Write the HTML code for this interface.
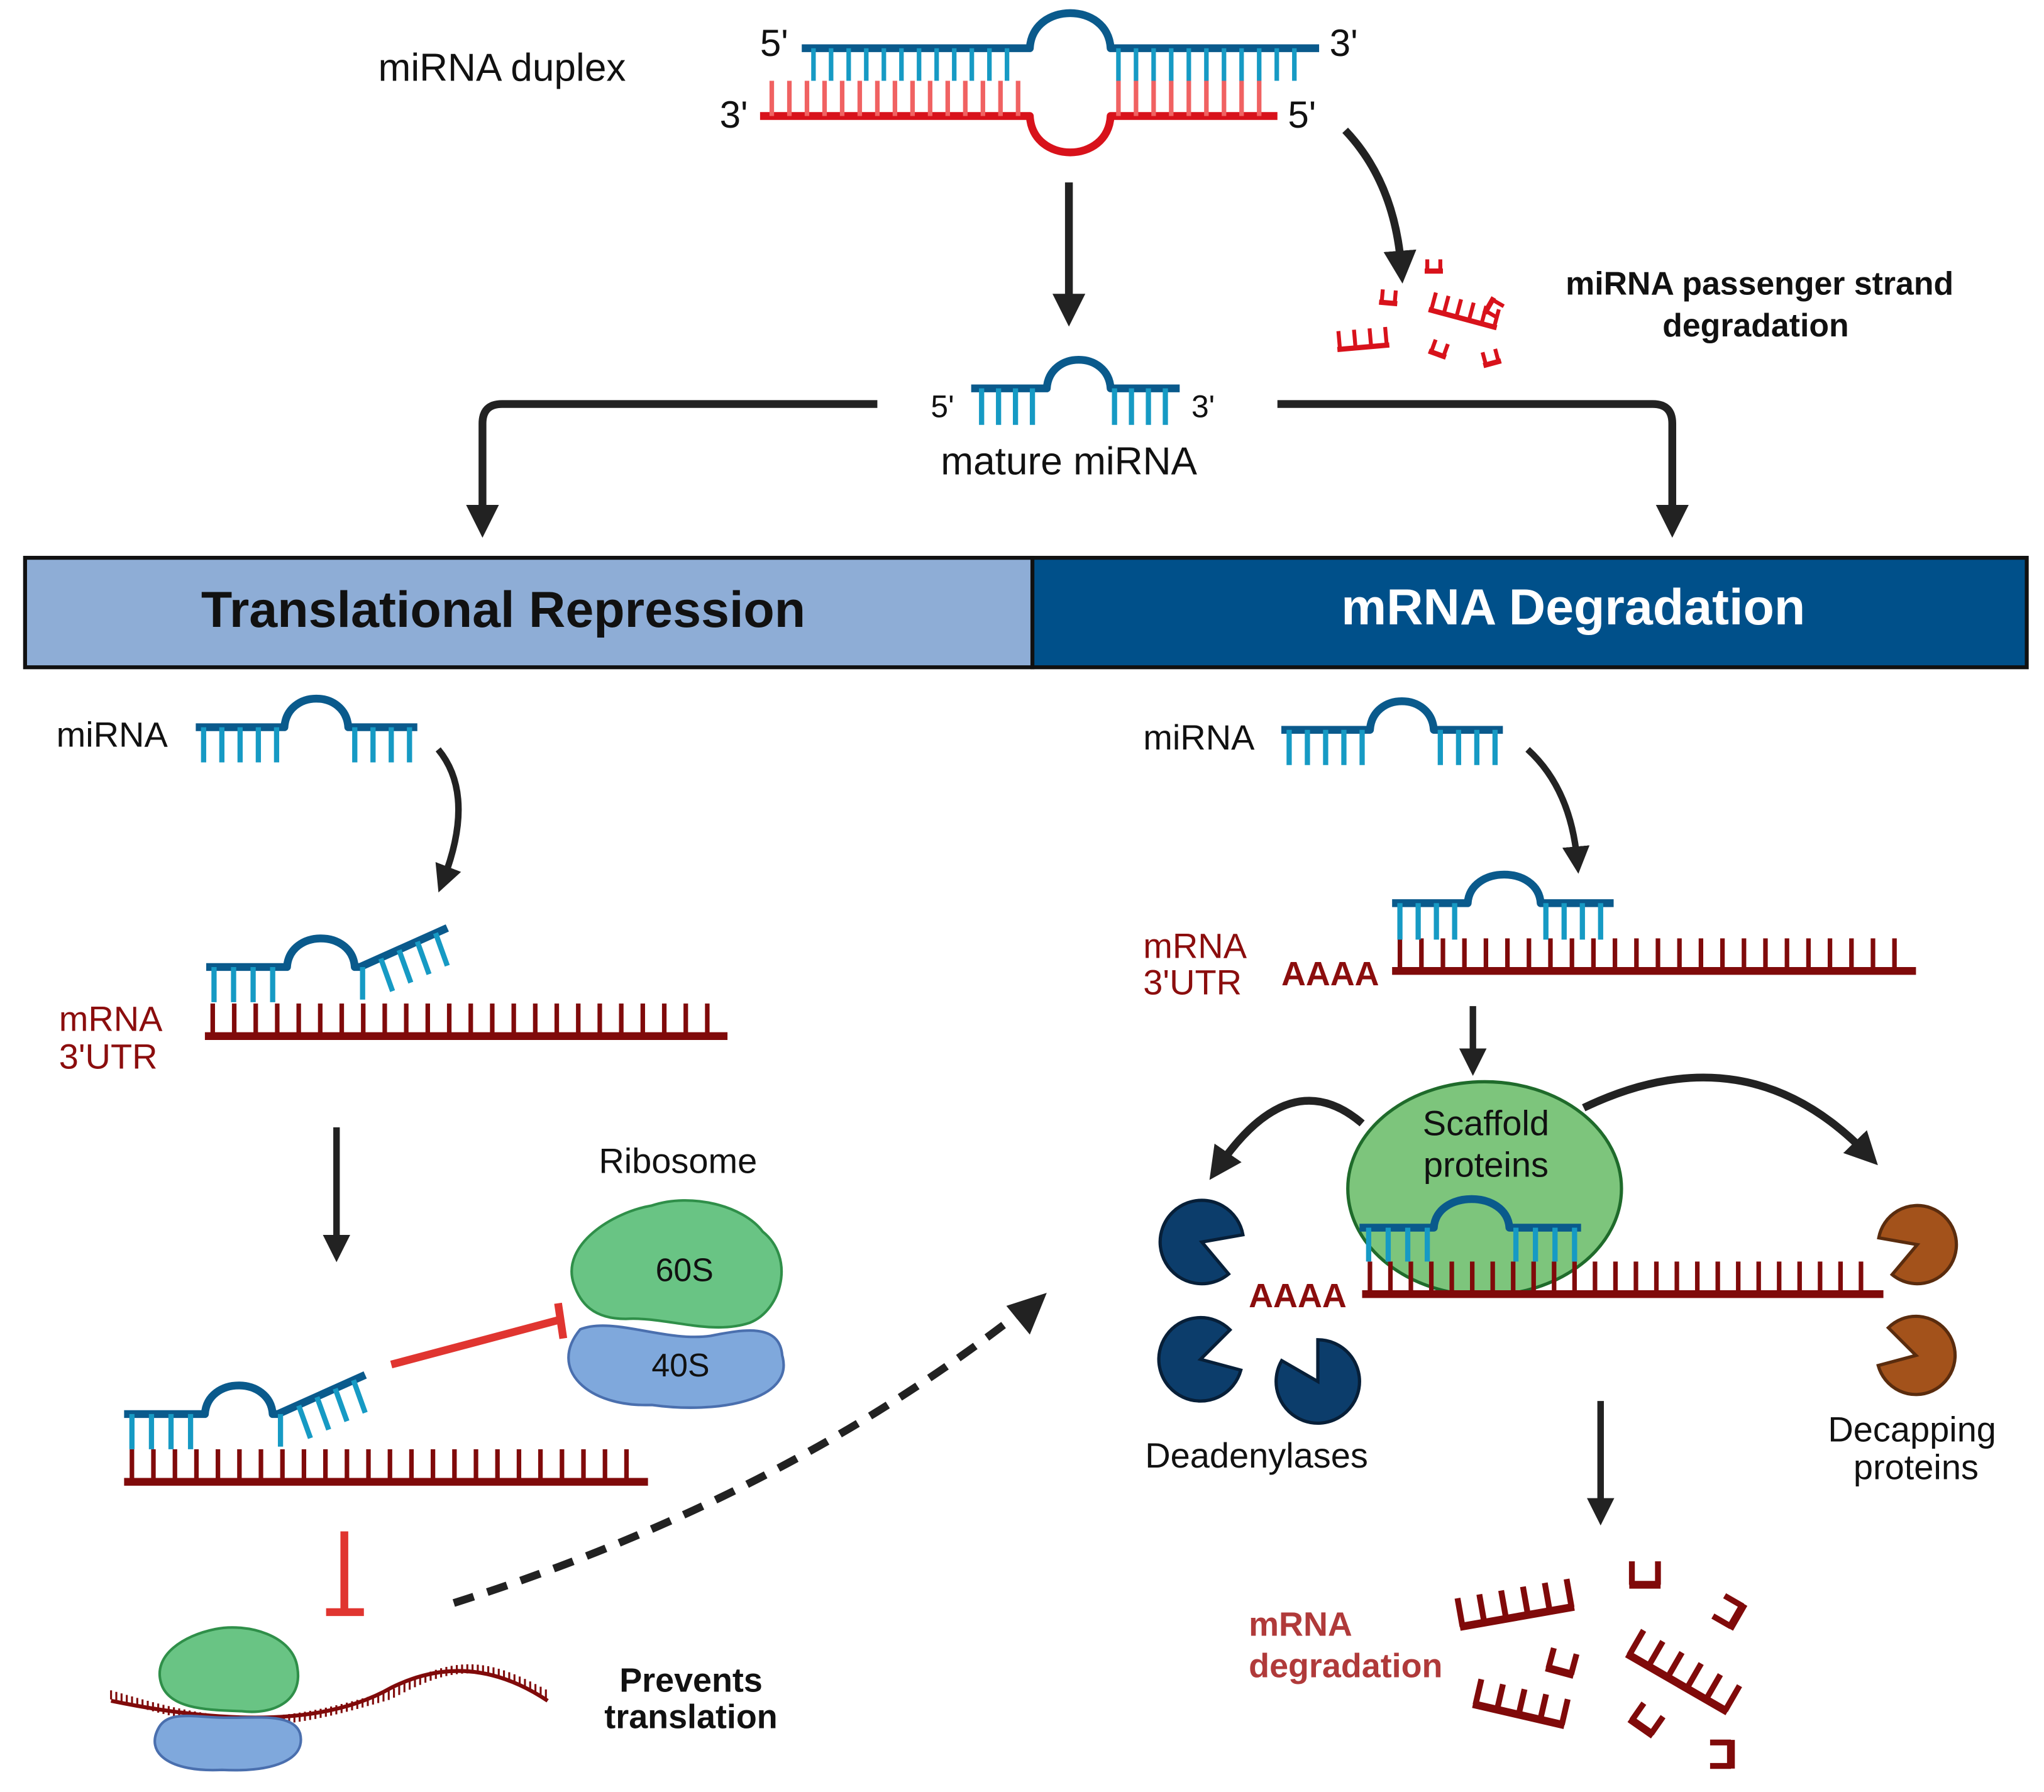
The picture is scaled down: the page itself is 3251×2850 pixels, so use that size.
<!DOCTYPE html>
<html><head><meta charset="utf-8">
<style>
html,body{margin:0;padding:0;background:#fff;}
svg{display:block;}
text{font-family:"Liberation Sans",Arial,sans-serif;}
</style></head>
<body>
<svg id="s" width="3251" height="2850" viewBox="0 0 1568 1375" xmlns="http://www.w3.org/2000/svg">
<defs>
<marker id="ah" viewBox="0 0 10 10" refX="5" refY="5" markerWidth="4.2" markerHeight="4.2" orient="auto"><path d="M0,0 L10,5 L0,10 Z" fill="#222"/></marker>
</defs>
<rect x="19" y="428" width="773" height="84" fill="#8eadd6" stroke="#111" stroke-width="3"/>
<rect x="792" y="428" width="763" height="84" fill="#00508a" stroke="#111" stroke-width="3"/>
<text x="386" y="481" font-size="39" font-weight="bold" fill="#111" text-anchor="middle">Translational Repression</text>
<text x="1207" y="479" font-size="39" font-weight="bold" fill="#fff" text-anchor="middle">mRNA Degradation</text>

<text x="290" y="62" font-size="30" fill="#111">miRNA duplex</text>
<text x="583" y="43" font-size="29" fill="#111">5'</text>
<text x="1020" y="43" font-size="29" fill="#111">3'</text>
<text x="552" y="98" font-size="29" fill="#111">3'</text>
<text x="988" y="98" font-size="29" fill="#111">5'</text>
<text x="1350" y="226" font-size="25" font-weight="bold" fill="#111" text-anchor="middle">miRNA passenger strand</text>
<text x="1347" y="258" font-size="25" font-weight="bold" fill="#111" text-anchor="middle">degradation</text>
<text x="714" y="320" font-size="24" fill="#111">5'</text>
<text x="914" y="320" font-size="24" fill="#111">3'</text>
<text x="820" y="364" font-size="30" fill="#111" text-anchor="middle">mature miRNA</text>

<text x="43" y="573" font-size="27" fill="#111">miRNA</text>
<text x="45" y="791" font-size="27" fill="#8b0d0d">mRNA</text>
<text x="45" y="820" font-size="27" fill="#8b0d0d">3'UTR</text>
<text x="520" y="900" font-size="27" fill="#111" text-anchor="middle">Ribosome</text>
<text x="530" y="1298" font-size="26" font-weight="bold" fill="#111" text-anchor="middle">Prevents</text>
<text x="530" y="1326" font-size="26" font-weight="bold" fill="#111" text-anchor="middle">translation</text>

<text x="877" y="575" font-size="27" fill="#111">miRNA</text>
<text x="877" y="735" font-size="27" fill="#8b0d0d">mRNA</text>
<text x="877" y="763" font-size="27" fill="#8b0d0d">3'UTR</text>
<text x="983" y="756" font-size="26" font-weight="bold" fill="#8b0d0d">AAAA</text>
<text x="958" y="1003" font-size="26" font-weight="bold" fill="#8b0d0d">AAAA</text>
<text x="964" y="1126" font-size="27" fill="#111" text-anchor="middle">Deadenylases</text>
<text x="1467" y="1106" font-size="27" fill="#111" text-anchor="middle">Decapping</text>
<text x="1470" y="1135" font-size="27" fill="#111" text-anchor="middle">proteins</text>
<text x="958" y="1255" font-size="26" font-weight="bold" fill="#b03a3a">mRNA</text>
<text x="958" y="1287" font-size="26" font-weight="bold" fill="#b03a3a">degradation</text>
<g id="g"></g>
</svg>
<script>
var NS="http://www.w3.org/2000/svg",G=document.getElementById('g');
function el(t,a){var e=document.createElementNS(NS,t);for(var k in a)e.setAttribute(k,a[k]);G.appendChild(e);return e;}
function line(x1,y1,x2,y2,c,w,extra){var a={x1:x1,y1:y1,x2:x2,y2:y2,stroke:c,'stroke-width':w};for(var k in extra)a[k]=extra[k];return el('line',a);}
var BL='#0a5a8c',CY='#169ac4',RD='#d8121b',PK='#f06262',DR='#800a0a';
function strand(x1,x2,y,bx1,bx2,h,c,w){
 el('path',{d:'M'+x1+','+y+' H'+bx1+' C'+(bx1+2)+','+(y+h*1.33)+' '+(bx2-2)+','+(y+h*1.33)+' '+bx2+','+y+' H'+x2,fill:'none',stroke:c,'stroke-width':w,'stroke-linejoin':'round'});
}
function teeth(xs,xe,step,y,len,c,w){for(var x=xs;x<=xe+0.1;x+=step)line(x,y,x,y+len,c,w);}
strand(615,1012,37,790,852,-27,BL,6);
teeth(624,785,13.5,37,25,CY,3.5);teeth(858,1005,13.5,37,25,CY,3.5);
strand(583,980,89,790,852,28,RD,6);
teeth(592,785,13.5,62,27,PK,3.5);teeth(858,972,13.5,62,27,PK,3.5);
line(820,140,820,238,'#222',6,{'marker-end':'url(#ah)'});
el('path',{d:'M1032,100 Q1070,140 1075,205',fill:'none',stroke:'#222','stroke-width':6,'marker-end':'url(#ah)'});
function frag(x,y,ang,n,len,sp,c,w,bw){var g=el('g',{transform:'translate('+x+','+y+') rotate('+ang+')'});var s=G;G=g;line(-2,0,(n-1)*sp+2,0,c,bw||w+1);for(var i=0;i<n;i++)line(i*sp,0,i*sp,-len,c,w);G=s;}
frag(1028,268,-5,4,14,12,RD,3,4);frag(1098,238,15,6,14,10,RD,3,4);
frag(1060,232,5,2,10,10,RD,3,4);frag(1095,208,0,2,9,10,RD,3,4);
frag(1098,270,20,2,10,10,RD,3,4);frag(1145,230,120,2,10,10,RD,3,4);frag(1140,280,-15,2,10,10,RD,3,4);
strand(745,905,298,803,852,-22,BL,6);teeth(753,800,13,298,28,CY,4);teeth(855,900,13,298,28,CY,4);
el('path',{d:'M673,310 H385 Q370,310 370,325 V400',fill:'none',stroke:'#222','stroke-width':6,'marker-end':'url(#ah)'});
el('path',{d:'M980,310 H1268 Q1283,310 1283,325 V400',fill:'none',stroke:'#222','stroke-width':6,'marker-end':'url(#ah)'});
function mirna(x,y){strand(x,x+170,y,x+68,x+117,-22,BL,6);teeth(x+6,x+62,14,y,27,CY,4);teeth(x+122,x+165,14,y,27,CY,4);}
mirna(150,558);
el('path',{d:'M336,575 Q365,610 340,675',fill:'none',stroke:'#222','stroke-width':5,'marker-end':'url(#ah)'});
function mrna(x1,x2,y,c,step){line(x1,y,x2,y,c,6);teeth(x1+6,x2-4,step,y-25,25,c,3.5);}
function bound(x,y){
 strand(x,x+120,y,x+62,x+114,-22,BL,6);
 teeth(x+6,x+58,15,y,27,CY,4);
 line(x+118,y,x+185,y-30,BL,6);
 for(var i=0;i<5;i++){var px=x+120+i*14,py=y-i*6.5;line(px,py,px+(i<1?0:9),py+25,CY,4);}
}
mrna(157,558,795,DR,16.5);bound(158,742);
line(258,865,258,958,'#222',5,{'marker-end':'url(#ah)'});
mrna(95,497,1137,DR,16.5);bound(95,1085);
line(300,1047,428,1013,'#e03530',6);line(428,1000,432,1027,'#e03530',6);
el('path',{d:'M445,1020 C420,1050 450,1080 500,1078 C550,1085 610,1075 600,1040 C598,1015 570,1020 545,1025 C510,1030 470,1010 445,1020Z',fill:'#7fa8dc',stroke:'#4a6fae','stroke-width':2});
el('path',{d:'M440,985 C430,955 470,930 500,925 C530,915 570,925 585,945 C610,965 600,1005 575,1015 C545,1025 510,1010 480,1012 C455,1012 445,1000 440,985Z',fill:'#69c484',stroke:'#2f8f49','stroke-width':2});
el('text',{x:525,y:983,'font-size':25,'text-anchor':'middle',fill:'#111'}).textContent='60S';
el('text',{x:522,y:1056,'font-size':25,'text-anchor':'middle',fill:'#111'}).textContent='40S';
line(264,1175,264,1235,'#e03530',6);line(250,1237,279,1237,'#e03530',6);
el('path',{d:'M348,1230 Q600,1150 785,1005',fill:'none',stroke:'#222','stroke-width':6,'stroke-dasharray':'16,11'});
el('path',{d:'M803,992 L772,1002 L790,1024 Z',fill:'#222'});
el('path',{d:'M85,1305 Q230,1335 300,1295 Q360,1265 420,1305',fill:'none',stroke:DR,'stroke-width':3});
for(var t=0;t<=1;t+=0.012){var x=85+t*335;var y=1305+(t<0.64?(Math.sin(t/0.64*Math.PI)*20):(-Math.sin((t-0.64)/0.36*Math.PI)*20));line(x,y-8,x,y-1,DR,1.5);}
el('path',{d:'M122,1325 C110,1345 130,1360 170,1358 C210,1360 235,1350 230,1330 C225,1315 200,1318 175,1318 C150,1318 130,1312 122,1325Z',fill:'#7fa8dc',stroke:'#4a6fae','stroke-width':2});
el('path',{d:'M123,1290 C118,1270 140,1255 165,1250 C190,1245 225,1255 228,1280 C232,1305 210,1316 185,1313 C160,1312 128,1312 123,1290Z',fill:'#69c484',stroke:'#2f8f49','stroke-width':2});
mirna(983,560);
el('path',{d:'M1172,575 Q1205,605 1210,660',fill:'none',stroke:'#222','stroke-width':5,'marker-end':'url(#ah)'});
mrna(1068,1470,745,DR,16.5);
strand(1068,1238,693,1126,1182,-22,BL,6);teeth(1074,1122,14,693,28,CY,4);teeth(1186,1234,14,693,28,CY,4);
line(1130,772,1130,815,'#222',5,{'marker-end':'url(#ah)'});
el('ellipse',{cx:1139,cy:912,rx:105,ry:82,fill:'#7dc57c',stroke:'#1f6b2b','stroke-width':2.5});
el('text',{x:1140,y:871,'font-size':27,'text-anchor':'middle',fill:'#111'}).textContent='Scaffold';
el('text',{x:1140,y:903,'font-size':27,'text-anchor':'middle',fill:'#111'}).textContent='proteins';
mrna(1045,1445,993,DR,15.7);
strand(1043,1213,942,1100,1158,-22,BL,6);teeth(1050,1098,15,942,26,CY,4);teeth(1163,1210,15,942,26,CY,4);
el('path',{d:'M1045,862 Q990,815 935,895',fill:'none',stroke:'#222','stroke-width':6,'marker-end':'url(#ah)'});
el('path',{d:'M1215,850 Q1340,790 1432,885',fill:'none',stroke:'#222','stroke-width':6,'marker-end':'url(#ah)'});
function pac(cx,cy,r,ang,c,sc){var a1=(ang-30)*Math.PI/180,a2=(ang+30)*Math.PI/180;
 el('path',{d:'M'+cx+','+cy+' L'+(cx+r*Math.cos(a2))+','+(cy+r*Math.sin(a2))+' A'+r+','+r+' 0 1 1 '+(cx+r*Math.cos(a1))+','+(cy+r*Math.sin(a1))+' Z',fill:c,stroke:sc,'stroke-width':2.5});}
pac(922,953,32,20,'#0c3d6b','#071f38');pac(921,1043,32,-15,'#0c3d6b','#071f38');pac(1011,1060,32,-120,'#0c3d6b','#071f38');
pac(1471,955,30,160,'#a3521b','#5a2c0e');pac(1470,1040,30,195,'#a3521b','#5a2c0e');
line(1228,1075,1228,1160,'#222',5,{'marker-end':'url(#ah)'});
frag(1122,1248,-10,6,22,17,DR,4.5,6);frag(1132,1308,13,5,20,17,DR,4.5,6);
frag(1252,1216,0,2,18,20,DR,4.5,6);frag(1250,1270,30,6,22,17,DR,4.5,6);
frag(1188,1280,15,2,16,18,DR,4.5,6);frag(1252,1320,35,2,16,18,DR,4.5,6);
frag(1328,1248,-60,2,16,18,DR,4.5,6);frag(1328,1355,-90,2,16,18,DR,4.5,6);
</script>
</body></html>
